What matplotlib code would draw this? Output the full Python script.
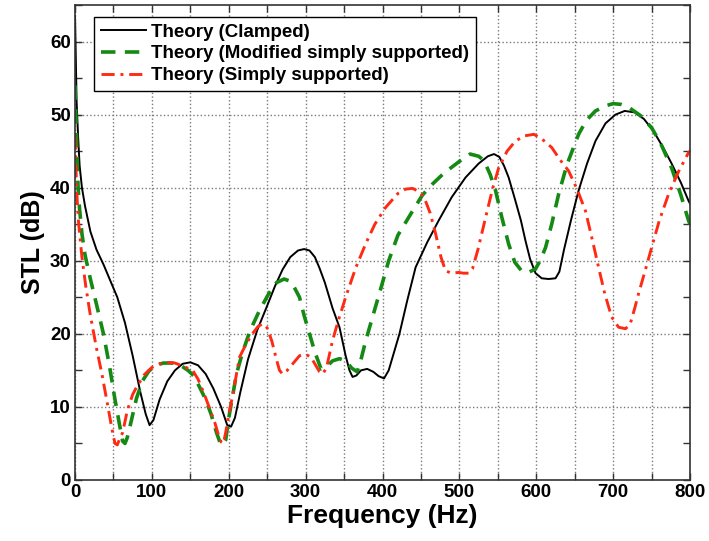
import numpy as np
import matplotlib.pyplot as plt
from matplotlib.ticker import MultipleLocator

# Clamped
f_clamped = [0, 1, 2, 4, 6, 9, 13, 20, 28, 37, 45, 55, 65, 75, 85, 92, 97, 102, 110, 120,
             130, 140, 150, 160, 170, 180, 190, 198, 203, 208, 215, 225, 237, 249, 260, 270,
             280, 290, 298, 305, 312, 318, 325, 335, 344, 352, 357, 361, 366, 372, 380, 388,
             395, 402, 408, 415, 422, 432, 443, 458, 473, 490, 508, 525, 537, 545, 552, 558,
             564, 572, 580, 586, 592, 599, 607, 616, 625, 630, 636, 645, 655, 666, 677, 690,
             703, 715, 728, 740, 752, 765, 776, 788, 798, 800]
stl_clamped = [63.5, 58, 52, 47, 43, 40, 37.5, 34, 31.5, 29.5, 27.5, 25, 21.5, 17, 12, 9, 7.5, 8.2, 11, 13.5,
               15, 15.9, 16.1, 15.7, 14.5, 12.5, 10, 7.5, 7.3, 8.5, 12, 16.5, 20.5, 23.6, 26.5, 28.8,
               30.5, 31.4, 31.6, 31.4, 30.5, 29, 27, 23.5, 20.9, 17, 15, 14.1, 14.3, 15, 15.2, 14.8,
               14.2, 13.9, 15, 17.5, 20, 24.5, 29.1, 32.5, 35.5, 38.7, 41.4, 43.3, 44.3, 44.6, 44.2, 43,
               41.4, 38.5, 35.5, 32.7, 30.2, 28.3, 27.6, 27.5, 27.6, 28.5, 31.5, 35.5, 39.6, 43.3, 46.4, 48.8,
               50, 50.5, 50.3, 49.4, 47.8, 45.5, 43.3, 40.7, 38.2, 37.8]

# Modified simply supported
f_modified = [0, 2, 4, 6, 9, 13, 20, 28, 37, 45, 52, 58, 62, 65, 68, 73, 80, 88, 96, 105,
              115, 127, 137, 147, 155, 163, 170, 177, 184, 189, 192, 196, 200, 205, 210, 218,
              228, 240, 252, 262, 272, 280, 286, 292, 298, 305, 312, 320, 327, 335, 344, 352,
              360, 367, 372, 378, 387, 398, 408, 420, 439, 452, 465, 480, 500, 514, 525, 532,
              540, 547, 555, 564, 572, 581, 590, 599, 605, 612, 620, 629, 640, 655, 665, 677,
              690, 700, 710, 720, 735, 750, 762, 776, 788, 798, 800]
stl_modified = [54, 47, 40, 37, 33.7, 30.8, 27.5, 24, 20, 15.5, 11, 7.5, 5.3, 5, 5.8, 8, 11.2, 13.6, 14.9, 15.7,
                16, 16, 15.7, 15, 14.2, 12.5, 11, 9, 6.5, 5, 4.8, 5.5, 8.5, 11.5, 14.5, 17.5,
                20.5, 23.2, 25.5, 27, 27.5, 27.2, 26.2, 25, 22.5, 20, 17.5, 15.2, 15.5, 16.3, 16.6, 16.3,
                15.3, 14.8, 16.5, 19, 22.3, 26.3, 30, 33.5, 36.8, 39, 40.5, 42, 43.6, 44.6, 44.3, 43.7,
                41.8, 39.6, 36, 32.3, 29.8, 28.6, 28.4, 28.9, 30, 31.8, 35, 39.1, 43.2, 47.3, 49.2, 50.5,
                51.2, 51.5, 51.4, 51, 49.9, 48.2, 46, 42.7, 39, 35.5, 35]

# Simply supported
f_simple = [0, 2, 4, 6, 9, 14, 20, 28, 35, 42, 48, 52, 55, 58, 62, 68, 75, 80, 90, 100,
            110, 119, 130, 140, 153, 160, 168, 175, 182, 187, 190, 193, 196, 200, 205, 210,
            214, 222, 230, 238, 244, 250, 256, 262, 266, 270, 276, 284, 292, 300, 307, 313,
            318, 322, 327, 335, 343, 352, 365, 378, 390, 404, 420, 430, 439, 447, 454, 462,
            469, 476, 482, 490, 499, 505, 512, 517, 524, 534, 543, 551, 562, 573, 585, 597,
            608, 620, 631, 642, 653, 664, 673, 681, 689, 698, 707, 716, 722, 728, 733, 742,
            750, 760, 772, 785, 798, 800]
stl_simple = [47, 40, 36, 33.7, 30.5, 26.5, 22.5, 18, 14.5, 10.5, 7, 5, 4.8, 5.6, 6.5, 9.5, 11.7, 12.7, 14.4, 15.4,
              15.9, 16.1, 16, 15.6, 15, 13.8, 11.8, 9.8, 7.8, 6, 5.2, 5, 6.5, 9, 11.5, 14.5,
              16.8, 18.5, 19.9, 21, 21.4, 20.8, 19, 16.5, 15, 14.5, 15, 16, 17, 17.2, 16.8, 15.7,
              14.8, 14.5, 15.3, 19.1, 22, 25, 29, 32.3, 35, 37.3, 39.2, 39.8, 39.9, 39.5, 38.7, 36.5,
              33.7, 30.5, 28.6, 28.3, 28.4, 28.3, 28.3, 28.9, 31.5, 35.9, 39.8, 42.7, 45, 46.4, 47.1, 47.3,
              46.6, 45.5, 43.8, 42.3, 39.8, 36.8, 32.8, 29.1, 25.5, 22.3, 20.9, 20.7, 21.3, 23.5, 25.5, 28.8,
              31.8, 35.5, 39.1, 42.2, 44.8, 45]

plt.rcParams['font.family'] = ['Liberation Sans', 'DejaVu Sans']
plt.rcParams['font.weight'] = 'bold'

fig = plt.figure(figsize=(7.09, 5.41), dpi=100)
ax = fig.add_axes([0.1058, 0.1128, 0.8675, 0.878])

ax.plot(f_clamped, stl_clamped, color='black', lw=1.4, label='Theory (Clamped)')
ax.plot(f_modified, stl_modified, color='#148a14', lw=2.6, dashes=(4, 2.6),
        label='Theory (Modified simply supported)')
ax.plot(f_simple, stl_simple, color='#ff2a14', lw=2.1, dashes=(4.5, 2, 1, 2),
        label='Theory (Simply supported)')

ax.set_xlim(0, 800)
ax.set_ylim(0, 65)
ax.xaxis.set_major_locator(MultipleLocator(100))
ax.xaxis.set_minor_locator(MultipleLocator(50))
ax.yaxis.set_major_locator(MultipleLocator(10))
ax.yaxis.set_minor_locator(MultipleLocator(5))
ax.tick_params(which='both', direction='in', top=True, right=True, length=5, width=1, color='#333333')
ax.tick_params(labelsize=13.5, pad=3)

ax.grid(True, which='major', axis='both', linestyle=':', color='#7a7a7a', lw=1)
ax.grid(True, which='minor', axis='x', linestyle=':', color='#7a7a7a', lw=1)
for s in ax.spines.values():
    s.set_linewidth(1.2)
    s.set_color('#333333')

ax.set_xlabel('Frequency (Hz)', fontsize=19, fontweight='bold', labelpad=2)
ax.set_ylabel('STL (dB)', fontsize=18, fontweight='bold', labelpad=4)

leg = ax.legend(loc='upper left', bbox_to_anchor=(0.031, 0.975), borderaxespad=0,
                fontsize=13.5, handlelength=2.4, handletextpad=0.3, labelspacing=0.25,
                borderpad=0.35, fancybox=False, framealpha=1, edgecolor='black')
leg.get_frame().set_linewidth(1)
for t in leg.get_texts():
    t.set_fontweight('bold')

fig.savefig('out.png', dpi=100)
